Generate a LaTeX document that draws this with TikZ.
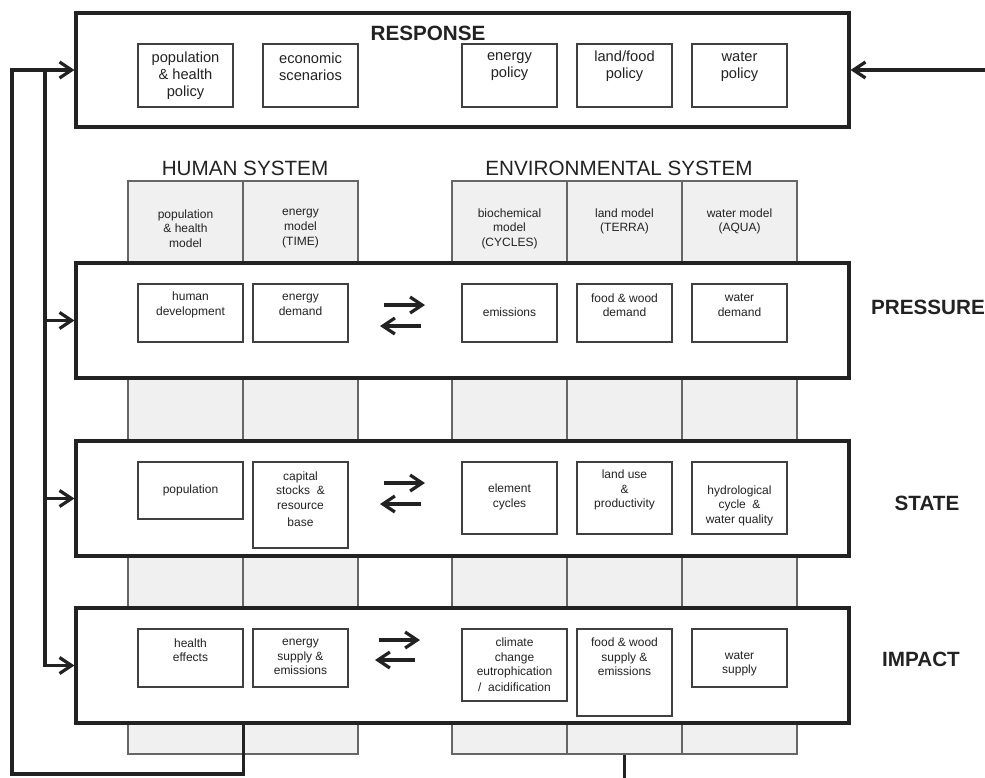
\documentclass[tikz,border=0pt]{standalone}
\usepackage{fontspec}
\setmainfont{Liberation Sans}
\usetikzlibrary{fit,arrows.meta}
\definecolor{ink}{HTML}{222222}
\definecolor{colfill}{HTML}{F0F0F0}
\begin{document}
\begin{tikzpicture}[x=0.75pt,y=-0.75pt,
  bigbox/.style={draw=ink, line width=2.4pt, fill=white, inner sep=0pt},
  colbox/.style={draw=black!60, line width=0.8pt, fill=colfill, inner sep=0pt},
  ibox/.style={draw=black!75, line width=0.9pt, fill=white, inner sep=0pt},
  smalltxt/.style={align=center, text=ink, font=\fontsize{9}{10.9}\selectfont, inner sep=0pt},
  poltxt/.style={align=center, text=ink, font=\fontsize{11}{12.75}\selectfont, inner sep=0pt},
  headtxt/.style={text=ink, font=\fontsize{15.5}{18}\selectfont, inner sep=0pt},
  stagetxt/.style={text=ink, font=\fontsize{15.5}{18}\selectfont\bfseries, inner sep=0pt},
  conn/.style={draw=ink, line width=2.4pt},
  arrowed/.style={-{Straight Barb[length=9pt,width=12pt]}},
]
\useasboundingbox (0,0) rectangle (985,778);

% model columns running behind the three stage boxes
\node[colbox, fit={(128,181) (243,754)}] (colPop) {};
\node[colbox, fit={(243,181) (358,754)}] (colEn) {};
\node[colbox, fit={(452,181) (567,754)}] (colBio) {};
\node[colbox, fit={(567,181) (682,754)}] (colLand) {};
\node[colbox, fit={(682,181) (797,754)}] (colWat) {};

\node[smalltxt] (tPop)  at (185.5,228.5) {population\\\& health\\model};
\node[smalltxt] (tEn)   at (300.5,228.5) {energy\\model\\(TIME)};
\node[smalltxt] (tBio)  at (509.5,228.5) {biochemical\\model\\(CYCLES)};
\node[smalltxt] (tLand) at (624.5,221.5) {land model\\(TERRA)};
\node[smalltxt] (tWat)  at (739.5,221.5) {water model\\(AQUA)};

\node[headtxt] (hHuman) at (245,168) {HUMAN SYSTEM};
\node[headtxt] (hEnv)   at (619,168) {ENVIRONMENTAL SYSTEM};

% response
\node[bigbox, fit={(76,13) (849,127)}] (resp) {};
\node[stagetxt] (tResp) at (428,33) {RESPONSE};
\node[ibox, fit={(138,44) (233,107)}] (rPop) {};
\node[poltxt] (rPopT) at (185.5,75.5) {population\\\& health\\policy};
\node[ibox, fit={(263,44) (358,107)}] (rEco) {};
\node[poltxt] (rEcoT) at (310.5,66.5) {economic\\scenarios};
\node[ibox, fit={(462,44) (557,107)}] (rEne) {};
\node[poltxt] (rEneT) at (509.5,66.5) {energy\\policy};
\node[ibox, fit={(577,44) (672,107)}] (rLand) {};
\node[poltxt] (rLandT) at (624.5,66.5) {land/food\\policy};
\node[ibox, fit={(692,44) (787,107)}] (rWat) {};
\node[poltxt] (rWatT) at (739.5,66.5) {water\\policy};

% pressure
\node[bigbox, fit={(76,263) (849,378)}] (pres) {};
\node[ibox, fit={(138,284) (243,342)}] (pHum) {};
\node[smalltxt] (pHumT) at (190.5,305) {human\\development};
\node[ibox, fit={(253,284) (348,342)}] (pEn) {};
\node[smalltxt] (pEnT) at (300.5,305) {energy\\demand};
\node[ibox, fit={(462,284) (557,342)}] (pEmi) {};
\node[smalltxt] (pEmiT) at (509.5,312) {emissions};
\node[ibox, fit={(577,284) (672,342)}] (pFood) {};
\node[smalltxt] (pFoodT) at (624.5,305) {food \& wood\\demand};
\node[ibox, fit={(692,284) (787,342)}] (pWat) {};
\node[smalltxt] (pWatT) at (739.5,305) {water\\demand};
\node[stagetxt] (lPres) at (928,307) {PRESSURE};

% state
\node[bigbox, fit={(76,441) (849,556)}] (state) {};
\node[ibox, fit={(138,462) (243,519)}] (sPop) {};
\node[smalltxt] (sPopT) at (190.5,490) {population};
\node[ibox, fit={(253,462) (348,548)}] (sCap) {};
\node[smalltxt] (sCapT) at (300.5,499) {capital\\stocks \ \&\\resource\\[2pt]base};
\node[ibox, fit={(462,462) (557,534)}] (sEl) {};
\node[smalltxt] (sElT) at (509.5,497) {element\\cycles};
\node[ibox, fit={(577,462) (672,534)}] (sLand) {};
\node[smalltxt] (sLandT) at (624.5,490) {land use\\\&\\productivity};
\node[ibox, fit={(692,462) (787,534)}] (sHyd) {};
\node[smalltxt] (sHydT) at (739.5,505.5) {hydrological\\cycle \ \&\\water quality};
\node[stagetxt] (lState) at (927,503) {STATE};

% impact
\node[bigbox, fit={(76,608) (849,723)}] (imp) {};
\node[ibox, fit={(138,629) (243,687)}] (iHea) {};
\node[smalltxt] (iHeaT) at (190.5,650) {health\\effects};
\node[ibox, fit={(253,629) (348,687)}] (iEn) {};
\node[smalltxt] (iEnT) at (300.5,657) {energy\\supply \&\\emissions};
\node[ibox, fit={(462,629) (567,701)}] (iCli) {};
\node[smalltxt] (iCliT) at (514.5,665) {climate\\change\\eutrophication\\[1pt]/ \ acidification};
\node[ibox, fit={(577,629) (672,716)}] (iFood) {};
\node[smalltxt] (iFoodT) at (624.5,657) {food \& wood\\supply \&\\emissions};
\node[ibox, fit={(692,629) (787,687)}] (iWat) {};
\node[smalltxt] (iWatT) at (739.5,664) {water\\supply};
\node[stagetxt] (lImp) at (921,659) {IMPACT};

% exchange arrows between the human and environmental system
\coordinate (pA1) at (384,305); \coordinate (pA2) at (425,305);
\coordinate (pB1) at (421,326); \coordinate (pB2) at (380,326);
\coordinate (sA1) at (384,483); \coordinate (sA2) at (425,483);
\coordinate (sB1) at (421,504); \coordinate (sB2) at (380,504);
\coordinate (iA1) at (379,640); \coordinate (iA2) at (420,640);
\coordinate (iB1) at (415,660); \coordinate (iB2) at (375,660);
\draw[conn, arrowed] (pA1) -- (pA2);
\draw[conn, arrowed] (pB1) -- (pB2);
\draw[conn, arrowed] (sA1) -- (sA2);
\draw[conn, arrowed] (sB1) -- (sB2);
\draw[conn, arrowed] (iA1) -- (iA2);
\draw[conn, arrowed] (iB1) -- (iB2);

% feedback loop from impact back to response and to every stage
\coordinate (loopCorner) at (12,774);
\coordinate (busTop) at (45,70);
\draw[conn, arrowed] (imp.south -| colPop.east) |- (loopCorner) |- (resp.west);
\draw[conn, arrowed] (busTop) |- (pres.west);
\draw[conn, arrowed] (busTop) |- (state.west);
\draw[conn, arrowed] (busTop) |- (imp.west);

% external links
\coordinate (extIn) at (985,70);
\draw[conn, arrowed] (extIn) -- (resp.east);
\coordinate (extOut) at (624.5,778);
\draw[conn] (colLand.south) -- (extOut);
\end{tikzpicture}
\end{document}
